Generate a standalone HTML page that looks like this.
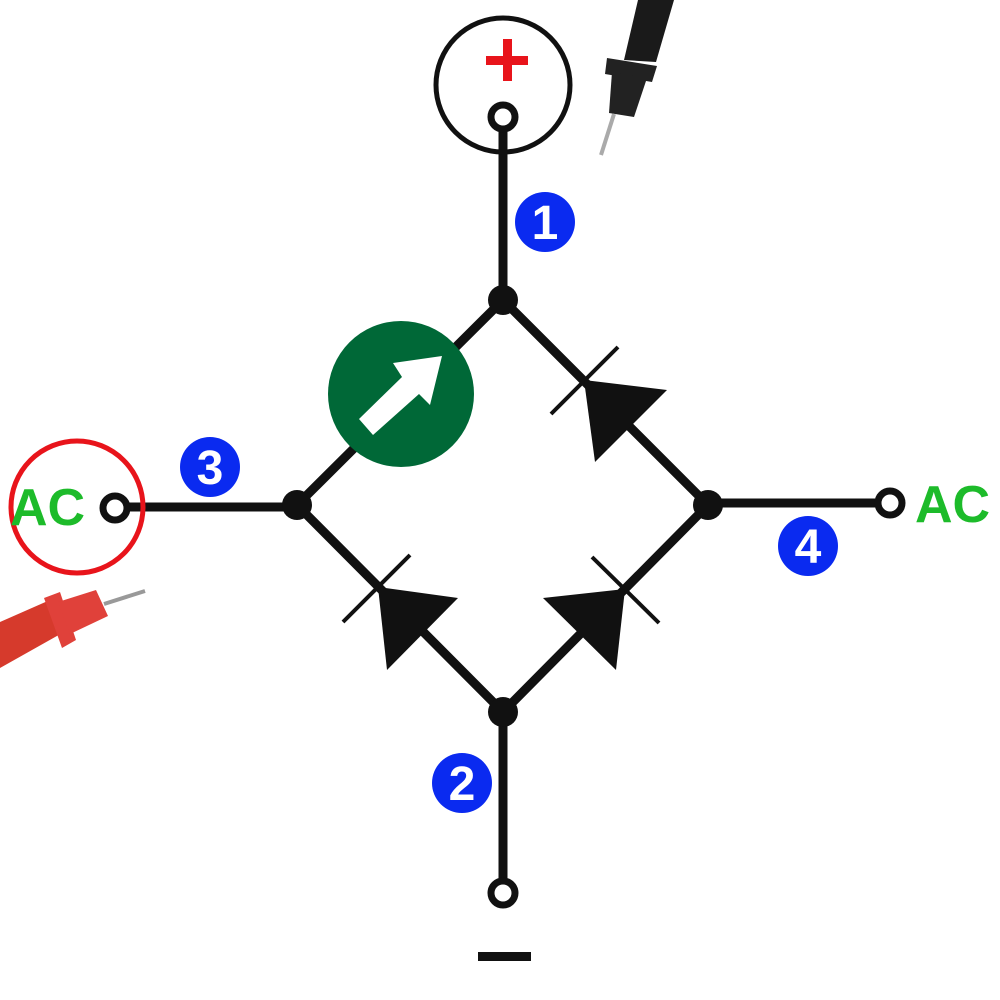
<!DOCTYPE html>
<html><head><style>html,body{margin:0;padding:0;background:#fff;width:1000px;height:1000px;overflow:hidden}</style></head>
<body>
<svg width="1000" height="1000" viewBox="0 0 1000 1000" xmlns="http://www.w3.org/2000/svg">
<g stroke="#111" stroke-width="9" fill="none" stroke-linecap="round">
<line x1="503" y1="129" x2="503" y2="300"/>
<line x1="503" y1="300" x2="297" y2="505"/>
<line x1="503" y1="300" x2="708" y2="505"/>
<line x1="297" y1="505" x2="503" y2="712"/>
<line x1="708" y1="505" x2="503" y2="712"/>
<line x1="127" y1="507" x2="297" y2="507"/>
<line x1="708" y1="503" x2="878" y2="503"/>
<line x1="503" y1="712" x2="503" y2="881"/>
</g>
<g fill="#fff" stroke="#111" stroke-width="7">
<circle cx="503" cy="117" r="12"/>
<circle cx="115" cy="508" r="12"/>
<circle cx="890" cy="503" r="12"/>
<circle cx="503" cy="893" r="12"/>
</g>
<g fill="#111">
<circle cx="503" cy="300" r="15"/>
<circle cx="297" cy="505" r="15"/>
<circle cx="708" cy="505" r="15"/>
<circle cx="503" cy="712" r="15"/>
<rect x="478" y="952" width="53" height="9"/>
</g>
<g stroke="#111" stroke-width="4">
<line x1="551" y1="414" x2="618" y2="347"/>
<line x1="343" y1="622" x2="410" y2="555"/>
<line x1="592" y1="557" x2="659" y2="623"/>
</g>
<g fill="#111">
<polygon points="584,380 595,462 667,390"/>
<polygon points="378,587 387,670 458,598"/>
<polygon points="625,589 543,598 616,670"/>
</g>
<circle cx="401" cy="394" r="73" fill="#006837"/>
<polygon fill="#fff" points="442,356 430,405 419,394 373,435 359,419 402,377 393,363"/>
<circle cx="503" cy="85" r="67" fill="none" stroke="#111" stroke-width="5"/>
<circle cx="77" cy="507" r="66" fill="none" stroke="#e8141b" stroke-width="5"/>
<g fill="#e8141b"><rect x="486" y="56" width="42" height="9"/><rect x="503" y="39" width="9" height="42"/></g>
<g fill="#0a2af0">
<circle cx="545" cy="222" r="30"/><circle cx="210" cy="467" r="30"/>
<circle cx="808" cy="546" r="30"/><circle cx="462" cy="783" r="30"/>
</g>
<g fill="#fff" font-family="Liberation Sans, sans-serif" font-weight="bold" font-size="48" text-anchor="middle">
<text x="545" y="239">1</text><text x="210" y="484">3</text>
<text x="808" y="563">4</text><text x="462" y="800">2</text>
</g>
<g fill="#1dbb2a" font-family="Liberation Sans, sans-serif" font-weight="bold" font-size="52">
<text x="10" y="525">AC</text><text x="915" y="522">AC</text>
</g>
<!-- black probe -->
<g>
<polygon fill="#1a1a1a" points="638,0 674,0 656,62 624,60"/>
<polygon fill="#222" points="607,58 657,66 652,82 605,74"/>
<polygon fill="#222" points="612,72 647,78 634,117 609,113"/>
<line x1="614" y1="114" x2="601" y2="155" stroke="#aaa" stroke-width="4"/>
</g>
<!-- red probe -->
<g>
<polygon fill="#d63a2c" points="0,622 50,600 64,632 0,668"/>
<polygon fill="#e0413a" points="44,598 60,592 76,640 62,648"/>
<polygon fill="#e0413a" points="58,602 96,590 108,616 70,634"/>
<line x1="104" y1="604" x2="145" y2="591" stroke="#999" stroke-width="4"/>
</g>
</svg>
</body></html>
